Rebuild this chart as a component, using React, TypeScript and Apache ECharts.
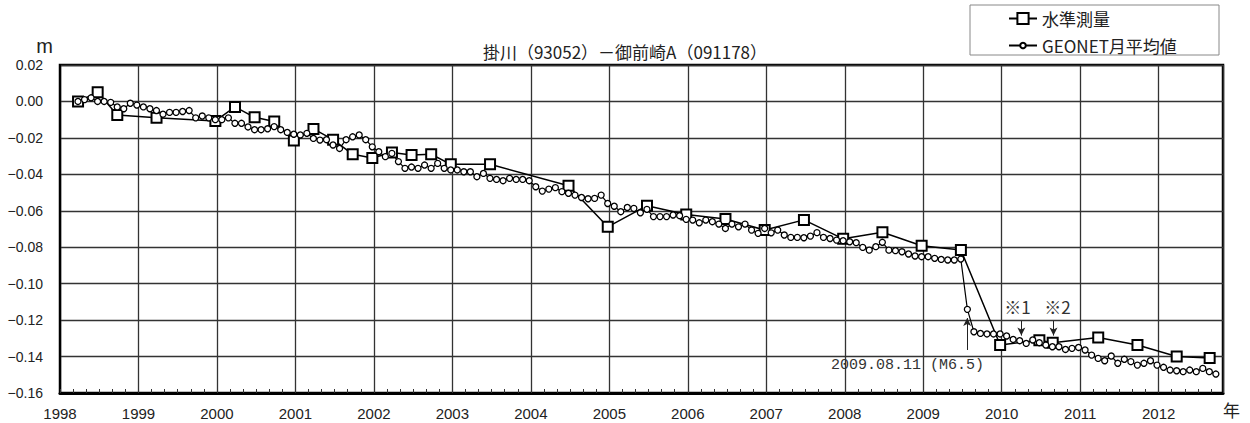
import React, { useEffect, useRef } from 'react';
import * as echarts from 'echarts';

const chartTitle = '掛川（93052）－御前崎A（091178）';
const levelName = '水準測量';
const geonetName = 'GEONET月平均値';
const yUnit = 'm';
const xUnit = '年';

const yMin = -0.16;
const yMax = 0.02;
const yStep = 0.02;
const xMin = 1998;
const xMax = 2012.82;
const xStep = 1;

// 水準測量 (levelling survey) — decimal-year dates and values (m)
const levelDates = [
  1998.23, 1998.48, 1998.73, 1999.23, 1999.98, 2000.23, 2000.48, 2000.73, 2000.98,
  2001.23, 2001.48, 2001.73, 2001.98, 2002.23, 2002.48, 2002.73, 2002.98, 2003.48,
  2004.48, 2004.98, 2005.48, 2005.98, 2006.48, 2006.98, 2007.48, 2007.98, 2008.48,
  2008.98, 2009.48, 2009.98, 2010.48, 2010.65, 2011.23, 2011.73, 2012.23, 2012.65,
];
const levelValues = [
  0.0, 0.005, -0.0075, -0.009, -0.0107, -0.003, -0.0087, -0.011, -0.0215,
  -0.0151, -0.021, -0.029, -0.031, -0.028, -0.0294, -0.029, -0.0345, -0.0345,
  -0.0463, -0.0688, -0.0572, -0.062, -0.0645, -0.0706, -0.065, -0.0754, -0.0718,
  -0.0792, -0.0815, -0.1337, -0.131, -0.1324, -0.1295, -0.1337, -0.14, -0.1408,
];

// GEONET monthly means, one value per month starting March 1998
const geonetStart = 1998 + 2.75 / 12;
const geonetValues = [
  0.0, 0.001, 0.002, 0.0, 0.0, -0.0005, -0.003, -0.004, -0.001, -0.002,
  -0.003, -0.004, -0.005, -0.007, -0.006, -0.006, -0.0055, -0.005, -0.009, -0.008,
  -0.009, -0.01, -0.01, -0.009, -0.012, -0.012, -0.014, -0.0155, -0.0155, -0.015,
  -0.0138, -0.0155, -0.017, -0.018, -0.0184, -0.0175, -0.0203, -0.0212, -0.021, -0.0239,
  -0.0258, -0.021, -0.0194, -0.0184, -0.021, -0.0249, -0.0276, -0.0303, -0.0285, -0.033,
  -0.0367, -0.036, -0.0367, -0.0349, -0.0367, -0.034, -0.0367, -0.0376, -0.0376, -0.0386,
  -0.0386, -0.0413, -0.0395, -0.0422, -0.0428, -0.0435, -0.0422, -0.0428, -0.0428, -0.0435,
  -0.0468, -0.0492, -0.0481, -0.0473, -0.0495, -0.0504, -0.0514, -0.0527, -0.0534, -0.0532,
  -0.0514, -0.056, -0.0575, -0.0605, -0.0582, -0.0587, -0.0611, -0.0592, -0.0632, -0.0632,
  -0.0632, -0.0623, -0.0627, -0.0647, -0.0651, -0.0666, -0.0651, -0.066, -0.0673, -0.0697,
  -0.0673, -0.0688, -0.0673, -0.0706, -0.0724, -0.0697, -0.0721, -0.0706, -0.0733, -0.0746,
  -0.0746, -0.0748, -0.0739, -0.072, -0.0746, -0.0752, -0.0761, -0.0764, -0.077, -0.0775,
  -0.0801, -0.0816, -0.0797, -0.0773, -0.0816, -0.0819, -0.0825, -0.0837, -0.0848, -0.0852,
  -0.0852, -0.0861, -0.0867, -0.087, -0.087, -0.0865, -0.1141, -0.1264, -0.1273, -0.1276,
  -0.1276, -0.1276, -0.1287, -0.1306, -0.1313, -0.1328, -0.1309, -0.1324, -0.1337, -0.1346,
  -0.1346, -0.1361, -0.1355, -0.135, -0.1364, -0.1392, -0.141, -0.1423, -0.1397, -0.1437,
  -0.1415, -0.1428, -0.1447, -0.1437, -0.1423, -0.1447, -0.1459, -0.1474, -0.1478, -0.1483,
  -0.1474, -0.1483, -0.1465, -0.1483, -0.1496,
];

// annotations (data coordinates)
const quakeText = '2009.08.11 (M6.5)';
const quakeDate = 2009.56;
const noteTexts = ['※1', '※2'];
const noteDates = [2010.25, 2010.66];

const FONT_LATIN = '"Liberation Sans", Arial, sans-serif';
const FONT_CJK = '"Noto Sans CJK JP", "Noto Sans", sans-serif';
const FONT_MONO = '"Liberation Mono", "DejaVu Sans Mono", monospace';

export default function App() {
  const ref = useRef<HTMLDivElement>(null);

  useEffect(() => {
    if (!ref.current) return;
    const chart = echarts.init(ref.current, undefined, { renderer: 'svg' });

    const levelData = levelDates.map((t, i) => [t, levelValues[i]]);
    const geonetData = geonetValues.map((v, k) => [geonetStart + k / 12, v]);

    const yFmt = (v: number) => {
      const r = Math.round(v * 100) / 100;
      if (r === 0) return '0.00';
      return (r < 0 ? '−' : '') + Math.abs(r).toFixed(2);
    };
    const xFmt = (v: number) =>
      Math.abs(v - Math.round(v)) < 1e-6 ? String(Math.round(v)) : '';

    const gridLine = { color: '#333', width: 1.3 };

    chart.setOption({
      animation: false,
      backgroundColor: '#fff',
      title: {
        text: chartTitle,
        left: 'center',
        top: 38,
        textStyle: { fontFamily: FONT_CJK, fontSize: 17, fontWeight: 'normal', color: '#222' },
      },
      legend: [
        {
          data: [levelName],
          left: 1003,
          top: 5,
          itemWidth: 28,
          itemHeight: 14,
          selectedMode: false,
          textStyle: { fontFamily: FONT_CJK, fontSize: 17, color: '#222' },
        },
        {
          data: [geonetName],
          left: 1003,
          top: 32,
          itemWidth: 28,
          itemHeight: 7,
          selectedMode: false,
          textStyle: { fontFamily: FONT_CJK, fontSize: 17, color: '#222' },
        },
      ],
      graphic: [
        {
          type: 'rect',
          shape: { x: 970, y: 5, width: 249, height: 50 },
          style: { fill: '#fff', stroke: '#888', lineWidth: 1 },
          z: -1,
        },
      ],
      grid: {
        left: 60,
        right: 27,
        top: 65,
        bottom: 30,
        show: true,
        borderColor: '#000',
        borderWidth: 2.5,
      },
      xAxis: {
        type: 'value',
        min: xMin,
        max: xMax,
        interval: xStep,
        name: xUnit,
        nameLocation: 'end',
        nameGap: 0,
        nameTextStyle: {
          fontFamily: FONT_CJK,
          fontSize: 17,
          color: '#222',
          verticalAlign: 'top',
          padding: [8, 0, 0, 0],
        },
        axisLine: { show: true, onZero: false, lineStyle: { color: '#000', width: 3 } },
        axisTick: { show: true, inside: true, length: 4, lineStyle: { color: '#333' } },
        minorTick: { show: true, splitNumber: 6, length: 4, lineStyle: { color: '#333', width: 1 } },
        splitLine: { show: true, lineStyle: gridLine },
        axisLabel: {
          formatter: xFmt,
          showMaxLabel: false,
          margin: 13,
          fontFamily: FONT_LATIN,
          fontSize: 15,
          color: '#222',
        },
      },
      yAxis: {
        type: 'value',
        min: yMin,
        max: yMax,
        interval: yStep,
        name: yUnit,
        nameLocation: 'end',
        nameGap: 9,
        nameTextStyle: {
          fontFamily: FONT_LATIN,
          fontSize: 20,
          color: '#222',
          align: 'right',
          padding: [0, 7, 0, 0],
        },
        axisLine: { show: true, lineStyle: { color: '#000', width: 2 } },
        axisTick: { show: false },
        splitLine: { show: true, lineStyle: gridLine },
        axisLabel: {
          formatter: yFmt,
          margin: 17,
          fontFamily: FONT_LATIN,
          fontSize: 14,
          color: '#222',
        },
      },
      series: [
        {
          name: levelName,
          type: 'line',
          data: levelData,
          symbol: 'rect',
          symbolSize: 10,
          itemStyle: { color: '#fff', borderColor: '#000', borderWidth: 2 },
          lineStyle: { color: '#000', width: 1.5 },
          emphasis: { disabled: true },
        },
        {
          name: geonetName,
          type: 'line',
          data: geonetData,
          symbol: 'circle',
          symbolSize: 6,
          itemStyle: { color: '#fff', borderColor: '#000', borderWidth: 1.3 },
          lineStyle: { color: '#000', width: 1.2 },
          emphasis: { disabled: true },
          markLine: {
            silent: true,
            symbol: ['none', 'arrow'],
            symbolSize: [6, 8],
            lineStyle: { color: '#222', width: 1, type: 'solid' },
            label: { show: false },
            emphasis: { disabled: true },
            data: [
              [{ coord: [quakeDate, -0.1364] }, { coord: [quakeDate, -0.1189] }],
              [{ coord: [noteDates[0], -0.1205] }, { coord: [noteDates[0], -0.1285] }],
              [{ coord: [noteDates[1], -0.1205] }, { coord: [noteDates[1], -0.1285] }],
            ],
          },
          markPoint: {
            silent: true,
            symbol: 'rect',
            symbolSize: 1,
            itemStyle: { color: 'rgba(0,0,0,0)' },
            emphasis: { disabled: true },
            data: [
              {
                coord: [2008.8, -0.1447],
                label: {
                  show: true,
                  position: 'inside',
                  formatter: quakeText,
                  fontFamily: FONT_MONO,
                  fontSize: 15,
                  color: '#333',
                },
              },
              {
                coord: [2010.2, -0.1127],
                label: {
                  show: true,
                  position: 'inside',
                  formatter: noteTexts[0],
                  fontFamily: FONT_CJK,
                  fontSize: 17,
                  color: '#333',
                },
              },
              {
                coord: [2010.71, -0.1127],
                label: {
                  show: true,
                  position: 'inside',
                  formatter: noteTexts[1],
                  fontFamily: FONT_CJK,
                  fontSize: 17,
                  color: '#333',
                },
              },
            ],
          },
        },
      ],
    });

    return () => chart.dispose();
  }, []);

  return (
    <div
      ref={ref}
      style={{ position: 'fixed', left: 0, top: 0, width: 1250, height: 423, background: '#fff' }}
    />
  );
}
